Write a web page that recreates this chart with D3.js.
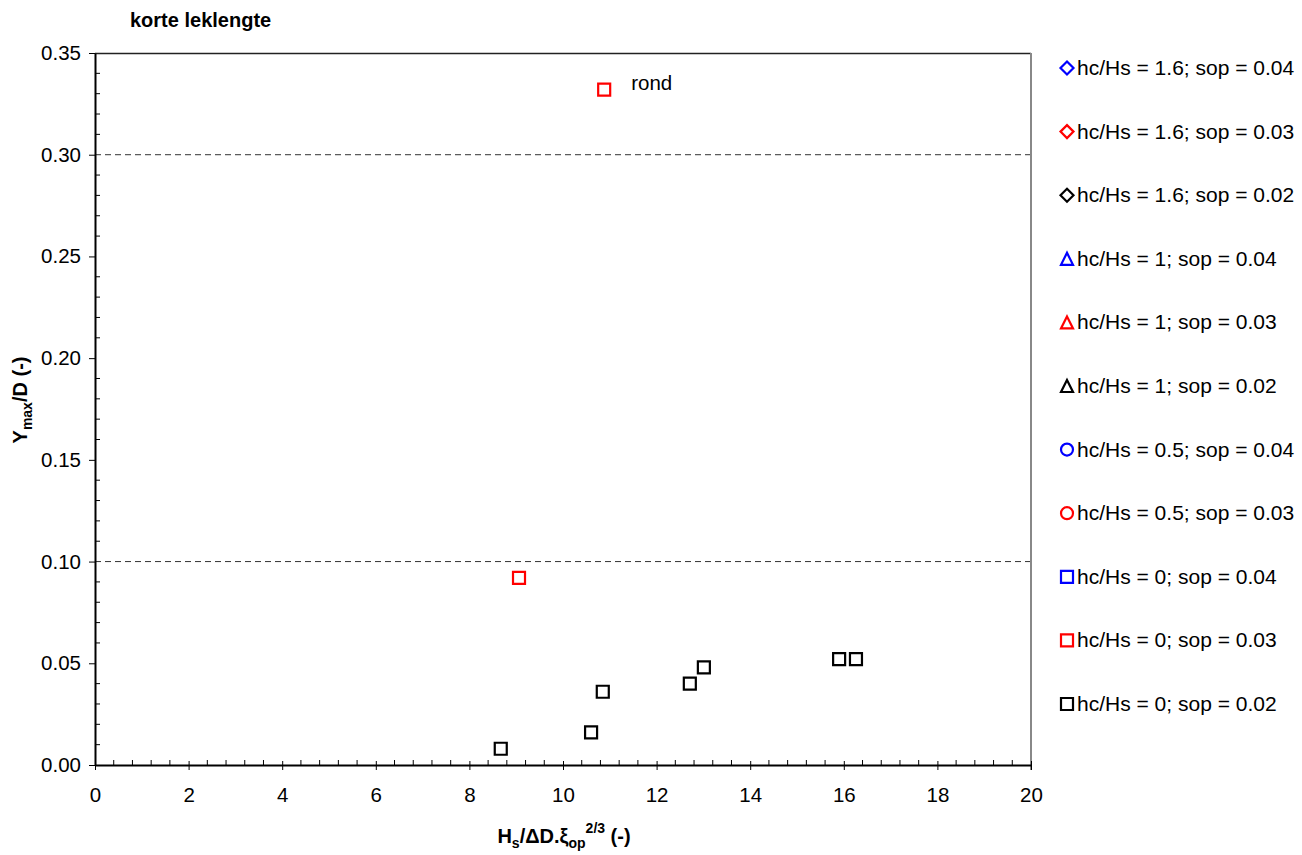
<!DOCTYPE html>
<html><head><meta charset="utf-8">
<script src="https://cdn.jsdelivr.net/npm/d3@7"></script>
<style>body{margin:0;background:#fff;} svg{display:block;font-family:"Liberation Sans",Arial,sans-serif;}</style>
</head><body>
<script>
// Data
const seriesNames = [
  "hc/Hs = 1.6; sop = 0.04","hc/Hs = 1.6; sop = 0.03","hc/Hs = 1.6; sop = 0.02",
  "hc/Hs = 1; sop = 0.04","hc/Hs = 1; sop = 0.03","hc/Hs = 1; sop = 0.02",
  "hc/Hs = 0.5; sop = 0.04","hc/Hs = 0.5; sop = 0.03",
  "hc/Hs = 0; sop = 0.04","hc/Hs = 0; sop = 0.03","hc/Hs = 0; sop = 0.02"];
const seriesColors = ["#0000ff","#ff0000","#000000","#0000ff","#ff0000","#000000","#0000ff","#ff0000","#0000ff","#ff0000","#000000"];
const seriesShapes = ["diamond","diamond","diamond","triangle","triangle","triangle","circle","circle","square","square","square"];
const red0X = [10.88, 9.06];
const red0Y = [0.332, 0.092];
const black0X = [8.67, 10.6, 10.85, 12.71, 13.01, 15.9, 16.26];
const black0Y = [0.008, 0.016, 0.036, 0.040, 0.048, 0.052, 0.052];
const xTicks = [0,2,4,6,8,10,12,14,16,18,20];
const yTicks = [0,0.05,0.10,0.15,0.20,0.25,0.30,0.35];
const gridY = [0.10, 0.30];
const annotation = {text:"rond", x:10.88, y:0.332};

const W=1302,H=855;
const svg=d3.select("body").append("svg").attr("width",W).attr("height",H);
const L=95,R=1031,T=53,B=765;
const x=d3.scaleLinear().domain([0,20]).range([L,R]);
const y=d3.scaleLinear().domain([0,0.35]).range([B,T]);
const FS="20.5px";

// grid
svg.selectAll(".grid").data(gridY).enter().append("line")
  .attr("x1",L).attr("x2",R).attr("y1",d=>y(d)).attr("y2",d=>y(d))
  .attr("stroke","#333").attr("stroke-width",1).attr("stroke-dasharray","6,4");

// borders
svg.append("line").attr("x1",L).attr("x2",R).attr("y1",T+0.5).attr("y2",T+0.5).attr("stroke","#222").attr("stroke-width",1.5);
svg.append("line").attr("x1",R).attr("x2",R).attr("y1",T).attr("y2",B+5).attr("stroke","#888").attr("stroke-width",2);

// minor ticks (inside)
const xMinor=d3.range(0,20.001,0.4).filter(v=>Math.abs(v/2-Math.round(v/2))>1e-6);
svg.selectAll(".xm").data(xMinor).enter().append("line")
  .attr("x1",d=>x(d)).attr("x2",d=>x(d)).attr("y1",B).attr("y2",B-5).attr("stroke","#000").attr("stroke-width",1);
const yMinor=d3.range(0,0.3501,0.01).filter(v=>Math.abs(v/0.05-Math.round(v/0.05))>1e-6);
svg.selectAll(".ym").data(yMinor).enter().append("line")
  .attr("x1",L).attr("x2",L+5).attr("y1",d=>y(d)).attr("y2",d=>y(d)).attr("stroke","#000").attr("stroke-width",1);

// axes
const xAxis=svg.append("g").attr("transform",`translate(0,${B})`)
  .call(d3.axisBottom(x).tickValues(xTicks).tickFormat(d3.format("d")).tickSize(5).tickSizeOuter(0));
const yAxis=svg.append("g").attr("transform",`translate(${L},0)`)
  .call(d3.axisLeft(y).tickValues(yTicks).tickFormat(d3.format(".2f")).tickSize(6).tickSizeOuter(0));
[xAxis,yAxis].forEach(g=>{
  g.select(".domain").attr("stroke","#000").attr("stroke-width",2);
  g.selectAll(".tick line").attr("stroke","#000").attr("stroke-width",1);
  g.selectAll("text").attr("font-size",FS).attr("fill","#000").attr("font-family","Liberation Sans, Arial, sans-serif");
});
xAxis.selectAll(".tick line").attr("y1",-4).attr("y2",5);
xAxis.selectAll("text").attr("y",22).attr("dy","0.71em");
yAxis.selectAll("text").attr("x",-14);

// markers
function sym(shape,size){
  const s=size;
  if(shape==="square") return `M${-s/2},${-s/2}h${s}v${s}h${-s}Z`;
  if(shape==="diamond") return `M0,${-s/2}L${s/2},0L0,${s/2}L${-s/2},0Z`;
  if(shape==="triangle") return `M0,${-s/2}L${s/2},${s/2}L${-s/2},${s/2}Z`;
  return d3.symbol(d3.symbolCircle, Math.PI*(s/2)*(s/2))();
}
function plot(xs,ys,color){
  svg.append("g").selectAll("path").data(xs.map((v,i)=>[v,ys[i]])).enter().append("path")
    .attr("d",sym("square",12)).attr("transform",d=>`translate(${x(d[0])},${y(d[1])})`)
    .attr("fill","none").attr("stroke",color).attr("stroke-width",2.2);
}
plot(red0X,red0Y,"#ff0000");
plot(black0X,black0Y,"#000000");

svg.append("text").attr("x",x(annotation.x)+27).attr("y",y(annotation.y)+0)
  .attr("font-size",FS).text(annotation.text);

// title
svg.append("text").attr("x",130).attr("y",27).attr("font-size","20px").attr("font-weight","bold").text("korte leklengte");

// y label
const yl=svg.append("text").attr("transform","translate(27,400) rotate(-90)").attr("text-anchor","middle")
  .attr("font-size","20px").attr("font-weight","bold");
yl.append("tspan").text("Y");
yl.append("tspan").attr("font-size","14px").attr("dy","5").text("max");
yl.append("tspan").attr("dy","-5").text("/D (-)");

// x label
const xl=svg.append("text").attr("x",564).attr("y",843).attr("text-anchor","middle")
  .attr("font-size","20px").attr("font-weight","bold");
xl.append("tspan").text("H");
xl.append("tspan").attr("font-size","14px").attr("dy","5").text("s");
xl.append("tspan").attr("dy","-5").text("/\u0394D.\u03BE");
xl.append("tspan").attr("font-size","14px").attr("dy","5").text("op");
xl.append("tspan").attr("font-size","14px").attr("dy","-15").text("2/3");
xl.append("tspan").attr("dy","10").text(" (-)");

// legend
const lg=svg.append("g");
seriesNames.forEach((n,i)=>{
  const yy=68+i*63.6;
  const sz = seriesShapes[i]==="diamond" ? 13 : 12;
  lg.append("path").attr("d",sym(seriesShapes[i],sz))
    .attr("transform",`translate(1067,${yy})`).attr("fill","none").attr("stroke",seriesColors[i]).attr("stroke-width",2.2);
  lg.append("text").attr("x",1077).attr("y",yy+7).attr("font-size","21px").text(n);
});
</script>
</body></html>
